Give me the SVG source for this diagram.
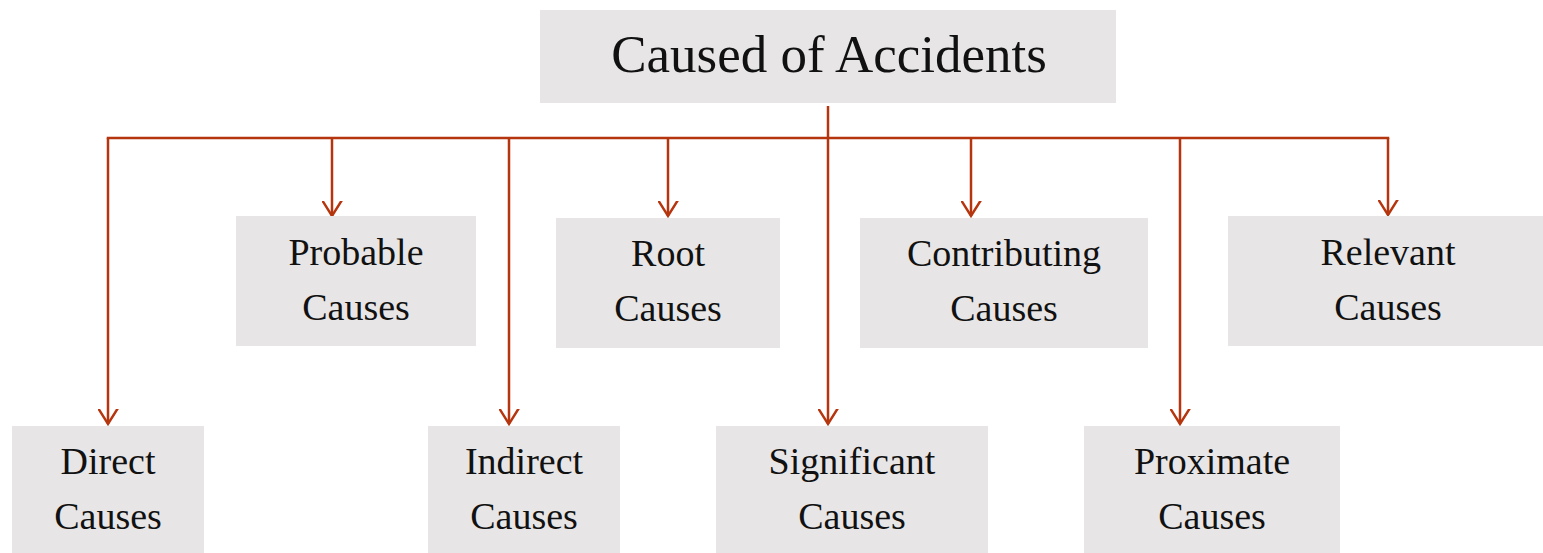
<svg xmlns="http://www.w3.org/2000/svg" width="1543" height="553" viewBox="0 0 1543 553">
<defs>
<style>
.box{fill:#E7E5E6}
.t{font-family:"Liberation Serif","Times New Roman",serif;font-size:38px;fill:#111;text-anchor:middle}
.title{font-size:53px}
.c{stroke:#B5360E;stroke-width:2.5;fill:none}
</style>
<marker id="arr" markerUnits="userSpaceOnUse" markerWidth="30" markerHeight="30" viewBox="-15 -20 30 30" refX="0" refY="0" orient="auto-start-reverse">
<path d="M-10,-16 L0,0 L10,-16" transform="rotate(-90)" fill="none" stroke="#B5360E" stroke-width="2.5"/>
</marker>
</defs>
<rect width="1543" height="553" fill="#fff"/>
<g id="connectors">
<line class="c" x1="828" y1="106" x2="828" y2="138"/>
<line class="c" x1="106.75" y1="138" x2="1389.25" y2="138"/>
<path class="c" d="M108,138 V424" marker-end="url(#arr)"/>
<path class="c" d="M332,138 V216" marker-end="url(#arr)"/>
<path class="c" d="M509,138 V424" marker-end="url(#arr)"/>
<path class="c" d="M668,138 V216" marker-end="url(#arr)"/>
<path class="c" d="M828,138 V424" marker-end="url(#arr)"/>
<path class="c" d="M971,138 V216" marker-end="url(#arr)"/>
<path class="c" d="M1180,138 V424" marker-end="url(#arr)"/>
<path class="c" d="M1388,138 V215" marker-end="url(#arr)"/>
</g>
<g id="root"><rect class="box" x="540" y="10" width="576" height="93"/><text class="t title" x="829" y="72">Caused of Accidents</text></g>
<g id="probable"><rect class="box" x="236" y="216" width="240" height="130"/><text class="t" x="356" y="265">Probable</text><text class="t" x="356" y="320">Causes</text></g>
<g id="rootcauses"><rect class="box" x="556" y="218" width="224" height="130"/><text class="t" x="668" y="266">Root</text><text class="t" x="668" y="321">Causes</text></g>
<g id="contributing"><rect class="box" x="860" y="218" width="288" height="130"/><text class="t" x="1004" y="266">Contributing</text><text class="t" x="1004" y="321">Causes</text></g>
<g id="relevant"><rect class="box" x="1228" y="216" width="315" height="130"/><text class="t" x="1388" y="265">Relevant</text><text class="t" x="1388" y="320">Causes</text></g>
<g id="direct"><rect class="box" x="12" y="426" width="192" height="127"/><text class="t" x="108" y="474">Direct</text><text class="t" x="108" y="529">Causes</text></g>
<g id="indirect"><rect class="box" x="428" y="426" width="192" height="127"/><text class="t" x="524" y="474">Indirect</text><text class="t" x="524" y="529">Causes</text></g>
<g id="significant"><rect class="box" x="716" y="426" width="272" height="127"/><text class="t" x="852" y="474">Significant</text><text class="t" x="852" y="529">Causes</text></g>
<g id="proximate"><rect class="box" x="1084" y="426" width="256" height="127"/><text class="t" x="1212" y="474">Proximate</text><text class="t" x="1212" y="529">Causes</text></g>
</svg>
